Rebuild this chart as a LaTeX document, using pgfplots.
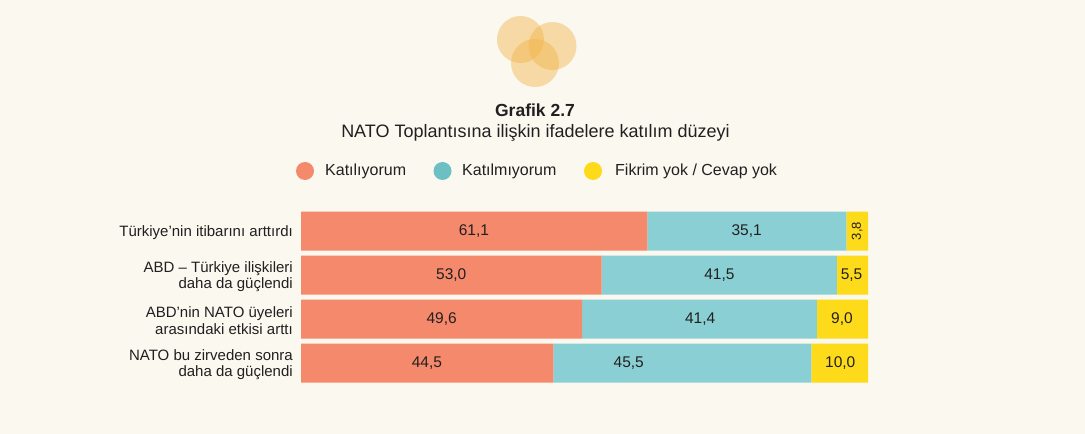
\documentclass[border=0pt]{standalone}
\usepackage{pgfplots}
\pgfplotsset{compat=1.18}
\usepackage{fontspec}
\setmainfont{Liberation Sans}
\definecolor{bg}{HTML}{FBF8F0}
\definecolor{cor}{HTML}{F4896B}
\definecolor{cte}{HTML}{8ACFD4}
\definecolor{cye}{HTML}{FDDB1A}
\definecolor{lte}{HTML}{6CC0C4}
\definecolor{logo}{HTML}{F2B44A}
\definecolor{txt}{HTML}{231F20}
\begin{document}
\begin{tikzpicture}
\fill[bg] (0pt,0pt) rectangle (1085pt,434pt);
% logo
\fill[logo, fill opacity=0.45] (520.5pt,394.5pt) circle (23.5pt);
\fill[logo, fill opacity=0.45] (552.5pt,388pt) circle (24pt);
\fill[logo, fill opacity=0.45] (535pt,371pt) circle (24pt);
% titles
\node[text=txt, font=\bfseries\fontsize{17.5}{20}\selectfont] at (535pt,324pt) {Grafik 2.7};
\node[text=txt, font=\fontsize{18}{21}\selectfont] at (535.5pt,301pt) {NATO Toplantısına ilişkin ifadelere katılım düzeyi};
% legend
\fill[cor] (305pt,263pt) circle (9pt);
\node[anchor=west, inner sep=0pt, text=txt, font=\fontsize{16}{18}\selectfont] at (325pt,263pt) {Katılıyorum};
\fill[lte] (442.5pt,263pt) circle (9pt);
\node[anchor=west, inner sep=0pt, text=txt, font=\fontsize{16}{18}\selectfont] at (462pt,263pt) {Katılmıyorum};
\fill[cye] (593pt,263pt) circle (9pt);
\node[anchor=west, inner sep=0pt, text=txt, font=\fontsize{16}{18}\selectfont] at (615pt,263pt) {Fikrim yok / Cevap yok};
\begin{axis}[
  at={(301pt,49pt)}, anchor=south west,
  scale only axis, width=567pt, height=176pt,
  xmin=0, xmax=100, ymin=-0.5, ymax=3.5, y dir=reverse,
  xbar stacked, bar width=39pt,
  axis line style={draw=none},
  xtick=\empty, ytick={0,1,2,3},
  yticklabels={{Türkiye'nin itibarını arttırdı},{ABD – Türkiye ilişkileri\\daha da güçlendi},{ABD'nin NATO üyeleri\\arasındaki etkisi arttı},{NATO bu zirveden sonra\\daha da güçlendi}},
  major tick length=0pt,
  yticklabel style={align=right, inner sep=0pt, xshift=-8pt, yshift=-1.5pt, text=txt, font=\fontsize{15}{16.5}\selectfont},
  clip=false,
]
\addplot[fill=cor, draw=none] coordinates {(61.1,0) (53.0,1) (49.6,2) (44.5,3)};
\addplot[fill=cte, draw=none] coordinates {(35.1,0) (41.5,1) (41.4,2) (45.5,3)};
\addplot[fill=cye, draw=none] coordinates {(3.8,0) (5.5,1) (9.0,2) (10.0,3)};
\end{axis}
\begin{axis}[
  at={(301pt,49pt)}, anchor=south west,
  scale only axis, width=567pt, height=176pt,
  xmin=0, xmax=100, ymin=-0.5, ymax=3.5, y dir=reverse,
  hide axis, clip=false,
]
\addplot[draw=none, mark=none, nodes near coords, point meta=explicit symbolic,
  every node near coord/.style={anchor=center, inner sep=0pt, text=txt, font=\fontsize{15.5}{17}\selectfont}]
  table[meta=lab] {
x y lab
30.5 0 61,1
78.6 0 35,1
26.5 1 53,0
73.8 1 41,5
97.1 1 5,5
24.8 2 49,6
70.4 2 41,4
95.4 2 9,0
22.2 3 44,5
57.8 3 45,5
95.1 3 10,0
};
\addplot[draw=none, mark=none, nodes near coords, point meta=explicit symbolic,
  every node near coord/.style={anchor=center, inner sep=0pt, rotate=90, text=txt, font=\fontsize{13}{15}\selectfont}]
  table[meta=lab] {
x y lab
98.1 0 3,8
};
\end{axis}
\end{tikzpicture}
\end{document}
